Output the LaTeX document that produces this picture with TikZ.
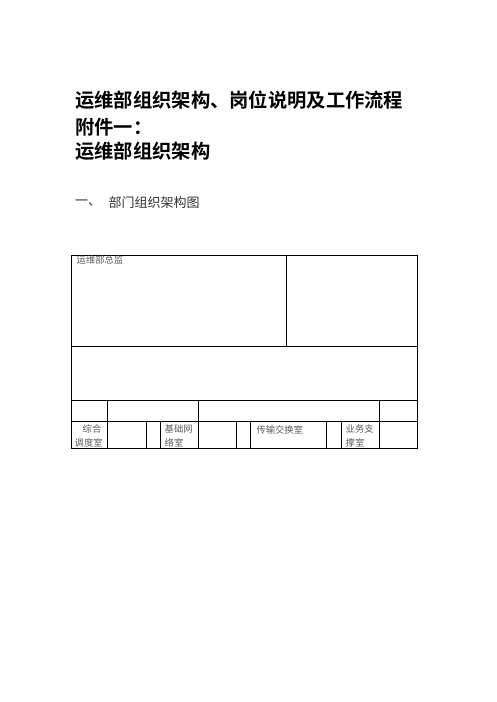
\documentclass[tikz,border=0pt]{standalone}
\usepackage{fontspec}
\newfontfamily\cjk[BoldFont={* Bold}]{Noto Sans CJK SC}
\begin{document}
\begin{tikzpicture}[x=1pt,y=-1pt,
  title/.style={anchor=west,inner sep=0pt,font=\cjk\bfseries\fontsize{19.3}{19.3}\selectfont},
  sub/.style={anchor=west,inner sep=0pt,font=\cjk\fontsize{13}{13}\selectfont,text=black!80},
  cell/.style={anchor=west,inner sep=0pt,font=\cjk\fontsize{9.3}{9.3}\selectfont,text=black!65},
  grid/.style={line width=0.9pt,black}]
\useasboundingbox (0,0) rectangle (496,702);
\node[title] (t1) at (75,100) {运维部组织架构、岗位说明及工作流程};
\node[title] (t2) at (75,127) {附件一：};
\node[title] (t3) at (75,151) {运维部组织架构};
\node[sub] (s1) at (75,203) {一、};
\node[sub] (s2) at (108.5,203) {部门组织架构图};
% table
\draw[grid] (71,255) rectangle (417.5,448);
\draw[grid] (286,255) -- (286,346);
\draw[grid] (71,346) -- (417.5,346);
\draw[grid] (71,400) -- (417.5,400);
\draw[grid] (71,421) -- (417.5,421);
\foreach \x in {107.7,198,379.3} \draw[grid] (\x,400) -- (\x,448);
\foreach \x in {146,160.7,236,250.7,326,341} \draw[grid] (\x,421) -- (\x,448);
\node[cell] (c0) at (76.5,259.5) {运维部总监};
\node[cell] (c1) at (82.5,429) {综合};
\node[cell] (c2) at (74.5,443) {调度室};
\node[cell] (c3) at (164.5,429) {基础网};
\node[cell] (c4) at (164.5,443) {络室};
\node[cell] (c5) at (256.3,429.5) {传输交换室};
\node[cell] (c6) at (345.5,429) {业务支};
\node[cell] (c7) at (345.5,443) {撑室};
\end{tikzpicture}
\end{document}
